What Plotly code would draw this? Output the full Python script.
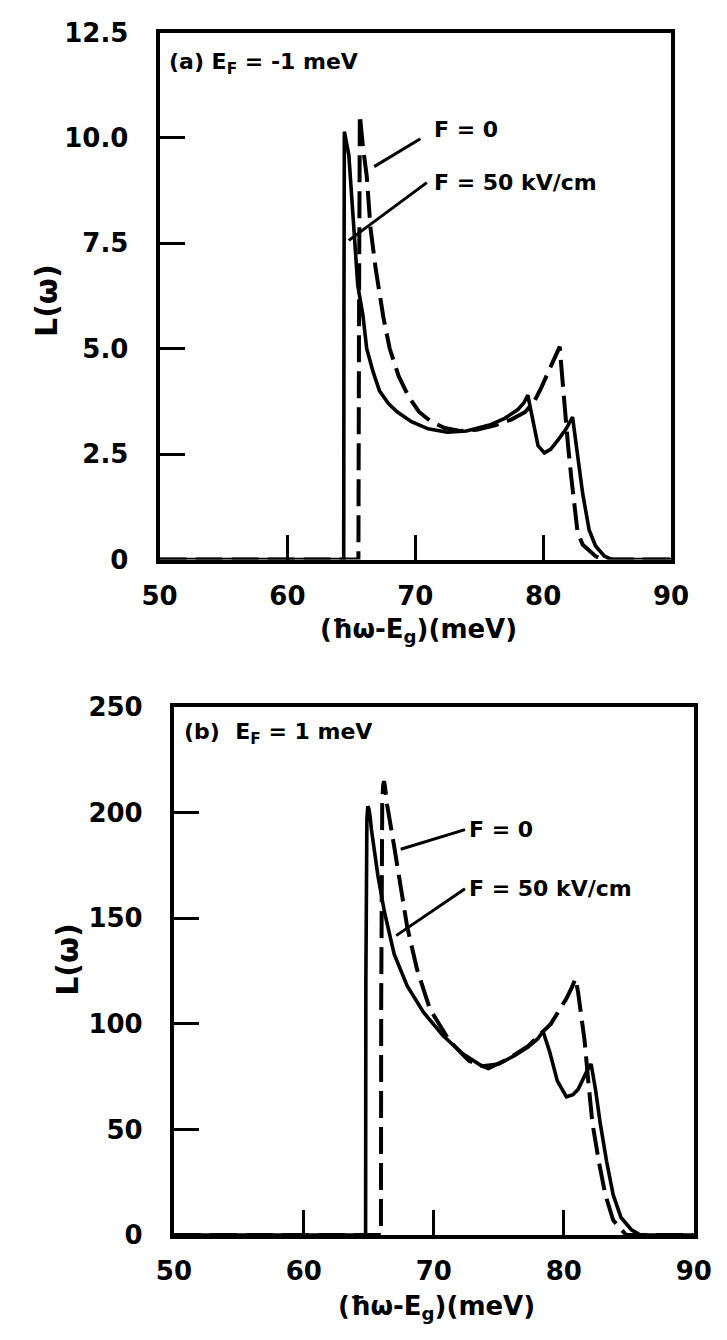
import plotly.graph_objects as go

# ---- panel (a): E_F = -1 meV ----
xa_f0 = [50, 65.55, 65.6, 65.66, 65.9, 66.2, 66.5, 66.9, 67.5, 68.0, 68.7, 69.5, 70.3, 71.2, 72.3,
         73.5, 74.8, 76.3, 77.5, 78.6, 79.3, 79.8, 80.4, 80.9, 81.3, 81.5, 81.7, 81.95, 82.2, 82.45,
         82.7, 83.1, 83.6, 84.1, 84.6, 90]
ya_f0 = [0, 0, 6.0, 10.55, 9.8, 9.1, 7.85, 6.9, 5.75, 5.0, 4.35, 3.85, 3.5, 3.28, 3.12,
         3.05, 3.08, 3.19, 3.32, 3.5, 3.75, 4.04, 4.45, 4.8, 5.05, 4.3, 3.5, 2.7, 1.95, 1.2,
         0.63, 0.35, 0.2, 0.08, 0, 0]

xa_f50 = [50, 64.4, 64.42, 64.45, 64.8, 65.2, 65.5, 65.9, 66.2, 66.7, 67.2, 67.9, 68.6, 69.7, 71.0,
          72.5, 74.0, 75.8, 77.0, 78.0, 78.5, 78.8, 79.2, 79.6, 80.1, 80.6, 81.2, 81.8, 82.3, 82.6,
          83.1, 83.6, 84.1, 84.8, 85.4, 90]
ya_f50 = [0, 0, 6.0, 10.15, 9.6, 7.7, 6.5, 5.8, 5.0, 4.45, 4.0, 3.7, 3.5, 3.27, 3.1,
          3.02, 3.05, 3.19, 3.35, 3.55, 3.72, 3.9, 3.3, 2.7, 2.53, 2.62, 2.85, 3.1, 3.38, 2.7,
          1.55, 0.7, 0.32, 0.08, 0, 0]

# ---- panel (b): E_F = 1 meV ----
xb_f0 = [50, 65.93, 65.95, 65.98, 66.03, 66.1, 66.17, 66.25, 66.4, 66.95, 67.45, 67.95, 68.7, 69.7,
         71.2, 72.7, 74.2, 75.75, 77.25, 78.4, 79.0, 79.6, 80.2, 80.6, 80.9, 81.1, 81.35, 81.6,
         81.85, 82.2, 82.7, 83.2, 83.8, 84.4, 84.8, 90]
yb_f0 = [0, 0, 110, 180, 205, 213, 215, 212, 204, 184, 164, 146, 126, 107,
         92, 82.5, 79, 83.5, 89.5, 96, 100, 106, 112, 117, 121.5, 115, 104, 92,
         75, 53, 34.6, 19, 7, 2.5, 0, 0]

xb_f50 = [50, 64.75, 64.77, 64.8, 64.85, 64.92, 65.0, 65.1, 65.2, 65.7, 66.2, 66.95, 67.95, 69.2,
          70.7, 72.2, 73.7, 75.0, 76.2, 77.25, 78.0, 78.4, 78.9, 79.5, 80.2, 80.7, 81.1, 81.8,
          82.1, 82.45, 82.8, 83.3, 83.8, 84.4, 85.2, 85.9, 90]
yb_f50 = [0, 0, 120, 175, 197, 203, 202, 198, 192, 170, 153, 133, 118, 105.5,
          94.5, 86, 80, 81, 85, 89, 93, 96.5, 87, 73, 65.5, 66.5, 69, 78,
          81, 68.5, 53, 34.6, 19, 8.3, 2.5, 0, 0]

# ---- tick labels ----
x_ticks = [50, 60, 70, 80, 90]
x_ticktext = ["50", "60", "70", "80", "90"]
ya_ticks = [0, 2.5, 5.0, 7.5, 10.0, 12.5]
ya_ticktext = ["0", "2.5", "5.0", "7.5", "10.0", "12.5"]
yb_ticks = [0, 50, 100, 150, 200, 250]
yb_ticktext = ["0", "50", "100", "150", "200", "250"]

FONT = "DejaVu Sans"
INK = "black"
W, H = 727, 1340

fig = go.Figure()

def curve(x, y, xa, ya, dashed):
    fig.add_trace(go.Scatter(
        x=x, y=y, xaxis=xa, yaxis=ya, mode="lines", showlegend=False,
        line=dict(color=INK, width=4 if dashed else 3.6,
                  dash="27px,9px" if dashed else "solid"),
    ))

curve(xa_f50, ya_f50, "x", "y", False)
curve(xa_f0, ya_f0, "x", "y", True)
curve(xb_f50, yb_f50, "x2", "y2", False)
curve(xb_f0, yb_f0, "x2", "y2", True)

def px_domain(a, b, total):
    return [a / total, b / total]

axis_common = dict(
    showline=True, linewidth=4, linecolor=INK, mirror=True,
    ticks="inside", ticklen=25, tickwidth=3, tickcolor=INK,
    showgrid=False, zeroline=False, fixedrange=True,
    tickfont=dict(family=FONT, size=26, color=INK, weight="bold"),
)

fig.update_layout(
    width=W, height=H, margin=dict(l=0, r=0, t=0, b=0),
    paper_bgcolor="white", plot_bgcolor="white",
    xaxis=dict(axis_common, domain=px_domain(149, 687, W), range=[50, 90],
               tickvals=x_ticks, ticktext=x_ticktext, anchor="y", ticklabelstandoff=10),
    yaxis=dict(axis_common, domain=[1 - 557 / H, 1 - 18 / H], range=[0, 12.5],
               tickvals=ya_ticks, ticktext=ya_ticktext, anchor="x", ticklabelstandoff=22),
    xaxis2=dict(axis_common, domain=px_domain(164, 711, W), range=[50, 90],
                tickvals=x_ticks, ticktext=x_ticktext, anchor="y2", ticklabelstandoff=10),
    yaxis2=dict(axis_common, domain=[1 - 1248 / H, 1 - 708 / H], range=[0, 250],
                tickvals=yb_ticks, ticktext=yb_ticktext, anchor="x2", ticklabelstandoff=22),
)

# leader lines from the curve labels to the curves
leaders = [
    ("x", "y", 66.78, 9.32, 70.4, 9.98),
    ("x", "y", 64.8, 7.57, 70.9, 8.94),
    ("x2", "y2", 67.45, 182.7, 72.4, 192),
    ("x2", "y2", 67.1, 141.8, 72.4, 164),
]
for xr, yr, x0, y0, x1, y1 in leaders:
    fig.add_shape(type="line", xref=xr, yref=yr, x0=x0, y0=y0, x1=x1, y1=y1,
                  line=dict(color=INK, width=3))

lab_font = dict(family=FONT, size=22, color=INK, weight="bold")
labels = [
    ("x", "y", 71.3, 10.2, "F = 0"),
    ("x", "y", 71.3, 8.94, "F = 50 kV/cm"),
    ("x2", "y2", 72.55, 192, "F = 0"),
    ("x2", "y2", 72.55, 164, "F = 50 kV/cm"),
    ("x", "y", 50.6, 11.76, "(a) E<sub>F</sub> = -1 meV"),
    ("x2", "y2", 50.6, 237.5, "(b)  E<sub>F</sub> = 1 meV"),
]
for xr, yr, x, y, t in labels:
    fig.add_annotation(xref=xr, yref=yr, x=x, y=y, text=t, showarrow=False,
                       xanchor="left", yanchor="middle", font=lab_font)

title_font = dict(family=FONT, size=26, color=INK, weight="bold")
xtitle = "(ħω-E<sub>g</sub>)(meV)"
fig.add_annotation(xref="paper", yref="paper", x=421 / W, y=1 - 630 / H, text=xtitle,
                   showarrow=False, xanchor="center", yanchor="middle", font=title_font)
fig.add_annotation(xref="paper", yref="paper", x=440 / W, y=1 - 1322 / H, text=xtitle,
                   showarrow=False, xanchor="center", yanchor="middle", font=title_font)
fig.add_annotation(xref="paper", yref="paper", x=30 / W, y=1 - 292 / H, text="L(ω)",
                   textangle=-90, showarrow=False, xanchor="center", yanchor="middle",
                   font=dict(title_font, size=30))
fig.add_annotation(xref="paper", yref="paper", x=52 / W, y=1 - 966 / H, text="L(ω)",
                   textangle=-90, showarrow=False, xanchor="center", yanchor="middle",
                   font=dict(title_font, size=30))

fig.write_html("out.html")
